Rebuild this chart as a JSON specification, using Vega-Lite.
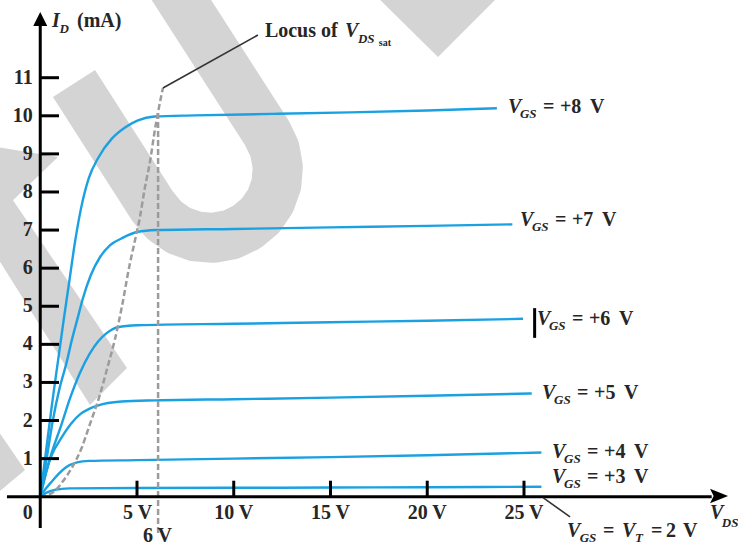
{
  "$schema": "https://vega.github.io/schema/vega-lite/v6.json",
  "width": 738,
  "height": 546,
  "autosize": "none",
  "padding": 0,
  "background": "white",
  "config": {"view": {"stroke": null}, "axis": {"disable": true}, "legend": {"disable": true}},
  "datasets": {
    "wm_u": [
      {"o":0,"v":1.744,"i":10.848},{"o":1,"v":5.822,"i":7.614},{"o":2,"v":6.411,"i":7.257},{"o":3,"v":7.165,"i":6.991},{"o":4,"v":8.028,"i":6.834},{"o":5,"v":8.938,"i":6.797},{"o":6,"v":9.842,"i":6.878},{"o":7,"v":10.669,"i":7.078},{"o":8,"v":11.372,"i":7.377},{"o":9,"v":11.894,"i":7.761},{"o":10,"v":12.204,"i":8.199},{"o":11,"v":12.277,"i":8.661},{"o":12,"v":12.116,"i":9.121},{"o":13,"v":11.724,"i":9.541},{"o":14,"v":6.628,"i":13.565}
    ],
    "wm_poly": [
      {"s":"a","o":0,"v":-2.2,"i":9.181},{"s":"a","o":1,"v":0.917,"i":8.918},{"s":"a","o":2,"v":-1.408,"i":7.784},{"s":"a","o":3,"v":4.483,"i":3.379},{"s":"a","o":4,"v":2.571,"i":2.407},{"s":"a","o":5,"v":-2.2,"i":6.267},
      {"s":"b","o":0,"v":-2.2,"i":1.751},{"s":"b","o":1,"v":-0.788,"i":0.701},{"s":"b","o":2,"v":-2.2,"i":0.097},
      {"s":"c","o":0,"v":17.15,"i":13.25},{"s":"c","o":1,"v":20.556,"i":11.544},{"s":"c","o":2,"v":23.91,"i":13.25}
    ],
    "curves": [
      {"g":"8","v":0,"i":0},{"g":"8","v":0.3,"i":1.2},{"g":"8","v":0.6,"i":2.4},{"g":"8","v":0.9,"i":3.5},{"g":"8","v":1.2,"i":4.6},{"g":"8","v":1.5,"i":5.65},{"g":"8","v":1.8,"i":6.7},{"g":"8","v":2.1,"i":7.55},{"g":"8","v":2.5,"i":8.35},{"g":"8","v":3.0,"i":8.9},{"g":"8","v":3.7,"i":9.4},{"g":"8","v":4.4,"i":9.7},{"g":"8","v":5.05,"i":9.88},{"g":"8","v":5.9,"i":9.98},{"g":"8","v":8,"i":10.01},{"g":"8","v":12,"i":10.05},{"g":"8","v":16,"i":10.09},{"g":"8","v":20,"i":10.14},{"g":"8","v":23.6,"i":10.2},
      {"g":"7","v":0,"i":0},{"g":"7","v":0.3,"i":0.9},{"g":"7","v":0.65,"i":2.0},{"g":"7","v":1.0,"i":2.85},{"g":"7","v":1.35,"i":3.5},{"g":"7","v":1.65,"i":4.15},{"g":"7","v":1.95,"i":4.72},{"g":"7","v":2.2,"i":5.2},{"g":"7","v":2.6,"i":5.8},{"g":"7","v":3.1,"i":6.3},{"g":"7","v":3.6,"i":6.6},{"g":"7","v":4.2,"i":6.78},{"g":"7","v":5.0,"i":6.95},{"g":"7","v":6,"i":7.0},{"g":"7","v":10,"i":7.03},{"g":"7","v":15,"i":7.07},{"g":"7","v":20,"i":7.11},{"g":"7","v":24.4,"i":7.15},
      {"g":"6","v":0,"i":0},{"g":"6","v":0.5,"i":1.0},{"g":"6","v":1.1,"i":1.9},{"g":"6","v":1.55,"i":2.6},{"g":"6","v":2.05,"i":3.25},{"g":"6","v":2.55,"i":3.75},{"g":"6","v":3.0,"i":4.08},{"g":"6","v":3.4,"i":4.28},{"g":"6","v":4.0,"i":4.45},{"g":"6","v":5,"i":4.5},{"g":"6","v":10,"i":4.54},{"g":"6","v":15,"i":4.58},{"g":"6","v":20,"i":4.62},{"g":"6","v":24.95,"i":4.67},
      {"g":"5","v":0,"i":0},{"g":"5","v":0.3,"i":0.65},{"g":"5","v":0.6,"i":1.1},{"g":"5","v":1.1,"i":1.55},{"g":"5","v":1.6,"i":1.92},{"g":"5","v":2.1,"i":2.18},{"g":"5","v":2.5,"i":2.3},{"g":"5","v":3.0,"i":2.4},{"g":"5","v":3.5,"i":2.46},{"g":"5","v":4.2,"i":2.5},{"g":"5","v":6,"i":2.53},{"g":"5","v":10,"i":2.56},{"g":"5","v":15,"i":2.6},{"g":"5","v":20,"i":2.65},{"g":"5","v":25.4,"i":2.71},
      {"g":"4","v":0,"i":0},{"g":"4","v":0.3,"i":0.22},{"g":"4","v":0.6,"i":0.4},{"g":"4","v":0.95,"i":0.6},{"g":"4","v":1.3,"i":0.76},{"g":"4","v":1.9,"i":0.9},{"g":"4","v":2.5,"i":0.94},{"g":"4","v":5,"i":0.96},{"g":"4","v":10,"i":1.0},{"g":"4","v":15,"i":1.04},{"g":"4","v":20,"i":1.09},{"g":"4","v":25.9,"i":1.16},
      {"g":"3","v":0,"i":0},{"g":"3","v":0.3,"i":0.1},{"g":"3","v":0.75,"i":0.18},{"g":"3","v":1.5,"i":0.22},{"g":"3","v":5,"i":0.23},{"g":"3","v":10,"i":0.235},{"g":"3","v":15,"i":0.24},{"g":"3","v":20,"i":0.25},{"g":"3","v":25.9,"i":0.26}
    ],
    "locus": [
      {"v":0,"i":0},{"v":0.42,"i":0.05},{"v":0.7,"i":0.13},{"v":1.15,"i":0.39},{"v":1.62,"i":0.75},{"v":2.13,"i":1.27},{"v":2.55,"i":1.88},{"v":3.08,"i":2.67},{"v":3.47,"i":3.39},{"v":3.85,"i":4.11},{"v":4.22,"i":4.99},{"v":4.6,"i":6.04},{"v":4.9,"i":6.74},{"v":5.14,"i":7.31},{"v":5.4,"i":8.09},{"v":5.7,"i":8.88},{"v":5.88,"i":9.49},{"v":6.09,"i":10.1},{"v":6.34,"i":10.73}
    ],
    "segs": [
      {"x":6.09,"y":-0.95,"x2":6.09,"y2":10.1,"k":"dash"},
      {"x":0,"y":-0.82,"x2":0,"y2":12.4,"k":"axis"},
      {"x":-1.72,"y":0,"x2":34.7,"y2":0,"k":"axis"},
      {"x":0,"y":1,"x2":0.97,"y2":1,"k":"tick"},{"x":0,"y":2,"x2":0.97,"y2":2,"k":"tick"},{"x":0,"y":3,"x2":0.97,"y2":3,"k":"tick"},{"x":0,"y":4,"x2":0.97,"y2":4,"k":"tick"},{"x":0,"y":5,"x2":0.97,"y2":5,"k":"tick"},{"x":0,"y":6,"x2":0.97,"y2":6,"k":"tick"},{"x":0,"y":7,"x2":0.97,"y2":7,"k":"tick"},{"x":0,"y":8,"x2":0.97,"y2":8,"k":"tick"},{"x":0,"y":9,"x2":0.97,"y2":9,"k":"tick"},{"x":0,"y":10,"x2":0.97,"y2":10,"k":"tick"},{"x":0,"y":11,"x2":0.97,"y2":11,"k":"tick"},
      {"x":5,"y":0,"x2":5,"y2":0.42,"k":"tick"},{"x":10,"y":0,"x2":10,"y2":0.42,"k":"tick"},{"x":15,"y":0,"x2":15,"y2":0.42,"k":"tick"},{"x":20,"y":0,"x2":20,"y2":0.42,"k":"tick"},{"x":25,"y":0,"x2":25,"y2":0.42,"k":"tick"},
      {"x":6.34,"y":10.73,"x2":11.25,"y2":12.12,"k":"lead"},
      {"x":26.0,"y":-0.03,"x2":27.38,"y2":-0.53,"k":"lead"},
      {"x":25.55,"y":4.17,"x2":25.55,"y2":4.95,"k":"bar"}
    ],
    "arrows": [
      {"x":0,"y":12.54,"d":"up"},
      {"x":35.08,"y":0.02,"d":"right"}
    ],
    "ticklabels": [
      {"x":-0.39,"y":11,"t":"11","a":"y"},{"x":-0.39,"y":10,"t":"10","a":"y"},{"x":-0.39,"y":9,"t":"9","a":"y"},{"x":-0.39,"y":8,"t":"8","a":"y"},{"x":-0.39,"y":7,"t":"7","a":"y"},{"x":-0.39,"y":6,"t":"6","a":"y"},{"x":-0.39,"y":5,"t":"5","a":"y"},{"x":-0.39,"y":4,"t":"4","a":"y"},{"x":-0.39,"y":3,"t":"3","a":"y"},{"x":-0.39,"y":2,"t":"2","a":"y"},{"x":-0.39,"y":1,"t":"1","a":"y"},{"x":-0.39,"y":-0.43,"t":"0","a":"y"},
      {"x":5.03,"y":-0.43,"t":"5 V","a":"x"},{"x":10,"y":-0.43,"t":"10 V","a":"x"},{"x":15,"y":-0.43,"t":"15 V","a":"x"},{"x":20,"y":-0.43,"t":"20 V","a":"x"},{"x":25,"y":-0.43,"t":"25 V","a":"x"},{"x":6.06,"y":-1.03,"t":"6 V","a":"x"}
    ],
    "vgs": [
      {"x":24.17,"y":10.07,"val":"+8"},
      {"x":24.79,"y":7.11,"val":"+7"},
      {"x":25.67,"y":4.51,"val":"+6"},
      {"x":25.93,"y":2.57,"val":"+5"},
      {"x":26.45,"y":1.02,"val":"+4"},
      {"x":26.45,"y":0.36,"val":"+3"}
    ],
    "notes": [
      {"x":0.61,"y":12.33,"t":"I","r":"it"},
      {"x":1.0,"y":12.17,"t":"D","r":"sub"},
      {"x":1.9,"y":12.33,"t":"(mA)","r":"rm"},
      {"x":11.61,"y":12.07,"t":"Locus of","r":"rm"},
      {"x":15.75,"y":12.07,"t":"V","r":"it"},
      {"x":16.42,"y":11.91,"t":"DS","r":"sub"},
      {"x":17.5,"y":11.82,"t":"sat","r":"ss"},
      {"x":34.61,"y":-0.58,"t":"V","r":"it"},
      {"x":35.22,"y":-0.79,"t":"DS","r":"sub"},
      {"x":27.22,"y":-1.06,"t":"V","r":"it"},
      {"x":27.88,"y":-1.19,"t":"GS","r":"sub"},
      {"x":29.08,"y":-1.06,"t":"=","r":"rm"},
      {"x":30.07,"y":-1.06,"t":"V","r":"it"},
      {"x":30.74,"y":-1.19,"t":"T","r":"sub"},
      {"x":31.56,"y":-1.06,"t":"=","r":"rm"},
      {"x":32.34,"y":-1.06,"t":"2","r":"rm"},
      {"x":33.22,"y":-1.06,"t":"V","r":"rm"}
    ]
  },
  "layer": [
    {
      "data": {"name": "wm_poly"},
      "mark": {"type": "line", "fill": "#d4d4d4", "strokeWidth": 0, "interpolate": "linear-closed"},
      "encoding": {
        "x": {"field": "v", "type": "quantitative", "scale": {"domain": [-2.08, 36.06], "nice": false, "zero": false}},
        "y": {"field": "i", "type": "quantitative", "scale": {"domain": [-1.294, 13.04], "nice": false, "zero": false}},
        "detail": {"field": "s"},
        "order": {"field": "o"}
      }
    },
    {
      "data": {"name": "wm_u"},
      "mark": {"type": "line", "color": "#d4d4d4", "strokeWidth": 50, "strokeCap": "butt", "strokeJoin": "round"},
      "encoding": {
        "x": {"field": "v", "type": "quantitative", "scale": {"domain": [-2.08, 36.06], "nice": false, "zero": false}},
        "y": {"field": "i", "type": "quantitative", "scale": {"domain": [-1.294, 13.04], "nice": false, "zero": false}},
        "order": {"field": "o"}
      }
    },
    {
      "data": {"name": "curves"},
      "mark": {"type": "line", "color": "#1ba1e2", "strokeWidth": 2.4, "interpolate": "monotone"},
      "encoding": {
        "x": {"field": "v", "type": "quantitative", "scale": {"domain": [-2.08, 36.06], "nice": false, "zero": false}},
        "y": {"field": "i", "type": "quantitative", "scale": {"domain": [-1.294, 13.04], "nice": false, "zero": false}},
        "detail": {"field": "g"}
      }
    },
    {
      "data": {"name": "locus"},
      "mark": {"type": "line", "color": "#9c9c9c", "strokeWidth": 2.5, "strokeDash": [6, 3], "interpolate": "monotone"},
      "encoding": {
        "x": {"field": "v", "type": "quantitative", "scale": {"domain": [-2.08, 36.06], "nice": false, "zero": false}},
        "y": {"field": "i", "type": "quantitative", "scale": {"domain": [-1.294, 13.04], "nice": false, "zero": false}}
      }
    },
    {
      "data": {"name": "segs"},
      "transform": [{"filter": "datum.k === 'dash'"}],
      "mark": {"type": "rule", "color": "#9c9c9c", "strokeWidth": 2.5, "strokeDash": [6, 3]},
      "encoding": {
        "x": {"field": "x", "type": "quantitative", "scale": {"domain": [-2.08, 36.06], "nice": false, "zero": false}},
        "y": {"field": "y", "type": "quantitative", "scale": {"domain": [-1.294, 13.04], "nice": false, "zero": false}},
        "x2": {"field": "x2"},
        "y2": {"field": "y2"}
      }
    },
    {
      "data": {"name": "segs"},
      "transform": [{"filter": "datum.k === 'axis' || datum.k === 'tick' || datum.k === 'bar'"}],
      "mark": {"type": "rule", "color": "#000000", "strokeWidth": 3, "strokeCap": "butt"},
      "encoding": {
        "x": {"field": "x", "type": "quantitative", "scale": {"domain": [-2.08, 36.06], "nice": false, "zero": false}},
        "y": {"field": "y", "type": "quantitative", "scale": {"domain": [-1.294, 13.04], "nice": false, "zero": false}},
        "x2": {"field": "x2"},
        "y2": {"field": "y2"}
      }
    },
    {
      "data": {"name": "segs"},
      "transform": [{"filter": "datum.k === 'lead'"}],
      "mark": {"type": "rule", "color": "#333333", "strokeWidth": 1.6},
      "encoding": {
        "x": {"field": "x", "type": "quantitative", "scale": {"domain": [-2.08, 36.06], "nice": false, "zero": false}},
        "y": {"field": "y", "type": "quantitative", "scale": {"domain": [-1.294, 13.04], "nice": false, "zero": false}},
        "x2": {"field": "x2"},
        "y2": {"field": "y2"}
      }
    },
    {
      "data": {"name": "arrows"},
      "transform": [{"filter": "datum.d === 'up'"}],
      "mark": {"type": "point", "shape": "M0,-1L-1,1L1,1Z", "size": 196, "filled": true, "color": "#000000", "opacity": 1},
      "encoding": {
        "x": {"field": "x", "type": "quantitative", "scale": {"domain": [-2.08, 36.06], "nice": false, "zero": false}},
        "y": {"field": "y", "type": "quantitative", "scale": {"domain": [-1.294, 13.04], "nice": false, "zero": false}}
      }
    },
    {
      "data": {"name": "arrows"},
      "transform": [{"filter": "datum.d === 'right'"}],
      "mark": {"type": "point", "shape": "M1,0L-1,-0.8L-0.6,0L-1,0.8Z", "size": 324, "filled": true, "color": "#000000", "opacity": 1},
      "encoding": {
        "x": {"field": "x", "type": "quantitative", "scale": {"domain": [-2.08, 36.06], "nice": false, "zero": false}},
        "y": {"field": "y", "type": "quantitative", "scale": {"domain": [-1.294, 13.04], "nice": false, "zero": false}}
      }
    },
    {
      "data": {"name": "ticklabels"},
      "transform": [{"filter": "datum.a === 'y'"}],
      "mark": {"type": "text", "font": "Liberation Serif", "fontSize": 20, "fontWeight": "bold", "align": "right", "baseline": "middle", "color": "#262626"},
      "encoding": {
        "x": {"field": "x", "type": "quantitative", "scale": {"domain": [-2.08, 36.06], "nice": false, "zero": false}},
        "y": {"field": "y", "type": "quantitative", "scale": {"domain": [-1.294, 13.04], "nice": false, "zero": false}},
        "text": {"field": "t"}
      }
    },
    {
      "data": {"name": "ticklabels"},
      "transform": [{"filter": "datum.a === 'x'"}],
      "mark": {"type": "text", "font": "Liberation Serif", "fontSize": 20, "fontWeight": "bold", "align": "center", "baseline": "middle", "color": "#262626"},
      "encoding": {
        "x": {"field": "x", "type": "quantitative", "scale": {"domain": [-2.08, 36.06], "nice": false, "zero": false}},
        "y": {"field": "y", "type": "quantitative", "scale": {"domain": [-1.294, 13.04], "nice": false, "zero": false}},
        "text": {"field": "t"}
      }
    },
    {
      "data": {"name": "vgs"},
      "mark": {"type": "text", "font": "Liberation Serif", "fontSize": 20, "fontWeight": "bold", "fontStyle": "italic", "align": "left", "baseline": "alphabetic", "color": "#262626"},
      "encoding": {
        "x": {"field": "x", "type": "quantitative", "scale": {"domain": [-2.08, 36.06], "nice": false, "zero": false}},
        "y": {"field": "y", "type": "quantitative", "scale": {"domain": [-1.294, 13.04], "nice": false, "zero": false}},
        "text": {"value": "V"}
      }
    },
    {
      "data": {"name": "vgs"},
      "mark": {"type": "text", "font": "Liberation Serif", "fontSize": 13, "fontWeight": "bold", "fontStyle": "italic", "align": "left", "baseline": "alphabetic", "dx": 12, "dy": 5, "color": "#262626"},
      "encoding": {
        "x": {"field": "x", "type": "quantitative", "scale": {"domain": [-2.08, 36.06], "nice": false, "zero": false}},
        "y": {"field": "y", "type": "quantitative", "scale": {"domain": [-1.294, 13.04], "nice": false, "zero": false}},
        "text": {"value": "GS"}
      }
    },
    {
      "data": {"name": "vgs"},
      "mark": {"type": "text", "font": "Liberation Serif", "fontSize": 20, "fontWeight": "bold", "align": "left", "baseline": "alphabetic", "dx": 35, "color": "#262626"},
      "encoding": {
        "x": {"field": "x", "type": "quantitative", "scale": {"domain": [-2.08, 36.06], "nice": false, "zero": false}},
        "y": {"field": "y", "type": "quantitative", "scale": {"domain": [-1.294, 13.04], "nice": false, "zero": false}},
        "text": {"value": "="}
      }
    },
    {
      "data": {"name": "vgs"},
      "mark": {"type": "text", "font": "Liberation Serif", "fontSize": 20, "fontWeight": "bold", "align": "left", "baseline": "alphabetic", "dx": 52, "color": "#262626"},
      "encoding": {
        "x": {"field": "x", "type": "quantitative", "scale": {"domain": [-2.08, 36.06], "nice": false, "zero": false}},
        "y": {"field": "y", "type": "quantitative", "scale": {"domain": [-1.294, 13.04], "nice": false, "zero": false}},
        "text": {"field": "val"}
      }
    },
    {
      "data": {"name": "vgs"},
      "mark": {"type": "text", "font": "Liberation Serif", "fontSize": 20, "fontWeight": "bold", "align": "left", "baseline": "alphabetic", "dx": 82, "color": "#262626"},
      "encoding": {
        "x": {"field": "x", "type": "quantitative", "scale": {"domain": [-2.08, 36.06], "nice": false, "zero": false}},
        "y": {"field": "y", "type": "quantitative", "scale": {"domain": [-1.294, 13.04], "nice": false, "zero": false}},
        "text": {"value": "V"}
      }
    },
    {
      "data": {"name": "notes"},
      "transform": [{"filter": "datum.r === 'it'"}],
      "mark": {"type": "text", "font": "Liberation Serif", "fontSize": 20, "fontWeight": "bold", "fontStyle": "italic", "align": "left", "baseline": "alphabetic", "color": "#262626"},
      "encoding": {
        "x": {"field": "x", "type": "quantitative", "scale": {"domain": [-2.08, 36.06], "nice": false, "zero": false}},
        "y": {"field": "y", "type": "quantitative", "scale": {"domain": [-1.294, 13.04], "nice": false, "zero": false}},
        "text": {"field": "t"}
      }
    },
    {
      "data": {"name": "notes"},
      "transform": [{"filter": "datum.r === 'rm'"}],
      "mark": {"type": "text", "font": "Liberation Serif", "fontSize": 20, "fontWeight": "bold", "align": "left", "baseline": "alphabetic", "color": "#262626"},
      "encoding": {
        "x": {"field": "x", "type": "quantitative", "scale": {"domain": [-2.08, 36.06], "nice": false, "zero": false}},
        "y": {"field": "y", "type": "quantitative", "scale": {"domain": [-1.294, 13.04], "nice": false, "zero": false}},
        "text": {"field": "t"}
      }
    },
    {
      "data": {"name": "notes"},
      "transform": [{"filter": "datum.r === 'sub'"}],
      "mark": {"type": "text", "font": "Liberation Serif", "fontSize": 13, "fontWeight": "bold", "fontStyle": "italic", "align": "left", "baseline": "alphabetic", "color": "#262626"},
      "encoding": {
        "x": {"field": "x", "type": "quantitative", "scale": {"domain": [-2.08, 36.06], "nice": false, "zero": false}},
        "y": {"field": "y", "type": "quantitative", "scale": {"domain": [-1.294, 13.04], "nice": false, "zero": false}},
        "text": {"field": "t"}
      }
    },
    {
      "data": {"name": "notes"},
      "transform": [{"filter": "datum.r === 'ss'"}],
      "mark": {"type": "text", "font": "Liberation Serif", "fontSize": 10, "fontWeight": "bold", "align": "left", "baseline": "alphabetic", "color": "#262626"},
      "encoding": {
        "x": {"field": "x", "type": "quantitative", "scale": {"domain": [-2.08, 36.06], "nice": false, "zero": false}},
        "y": {"field": "y", "type": "quantitative", "scale": {"domain": [-1.294, 13.04], "nice": false, "zero": false}},
        "text": {"field": "t"}
      }
    }
  ]
}
